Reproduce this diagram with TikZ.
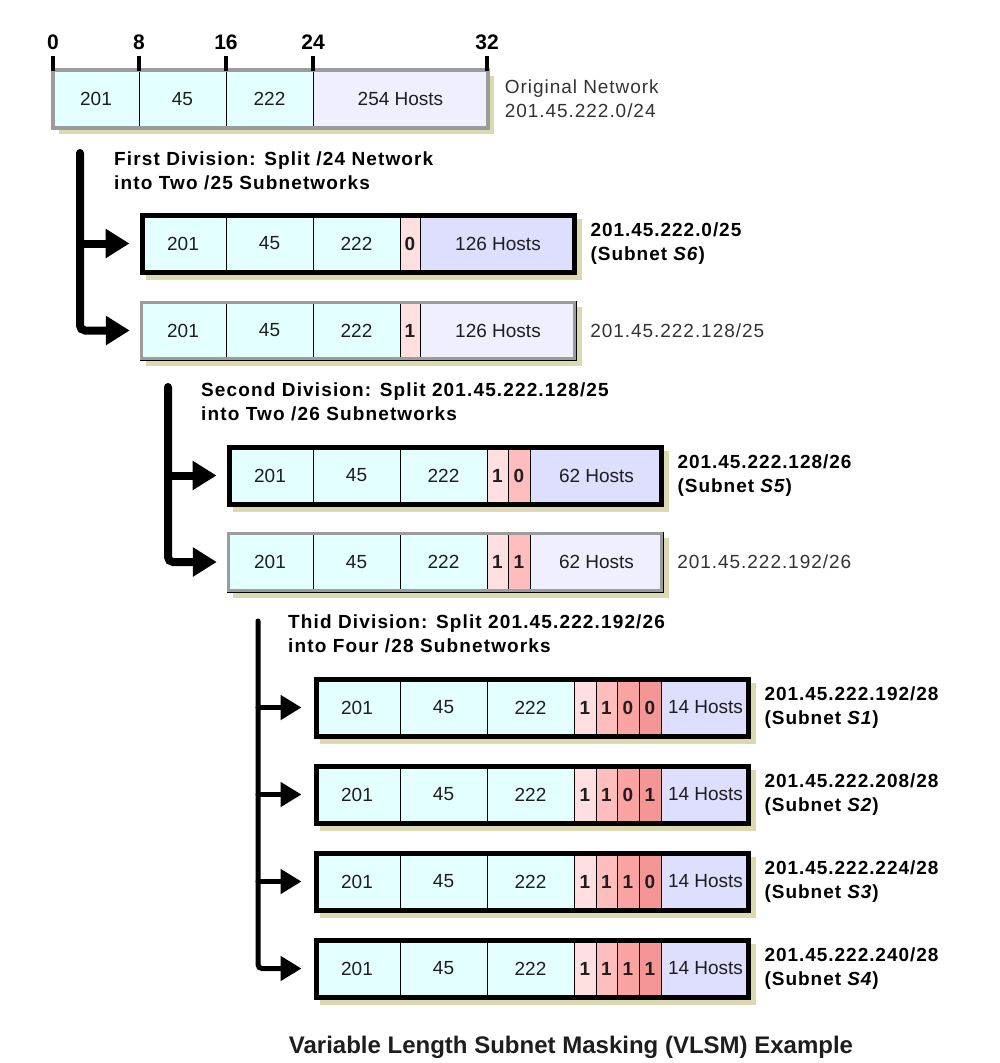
\documentclass[tikz,border=0pt]{standalone}
\usepackage{fontspec}
\setmainfont{Liberation Sans}
\newfontfamily\spfont[LetterSpace=5]{Liberation Sans}
\newfontfamily\hdfont[LetterSpace=6]{Liberation Sans}
\usetikzlibrary{arrows.meta,fit}
\definecolor{cyanc}{HTML}{E4FFFF}
\definecolor{lavl}{HTML}{EFEFFF}
\definecolor{lavd}{HTML}{DEDEFF}
\definecolor{pka}{HTML}{FFDFDF}
\definecolor{pkb}{HTML}{FFBDBD}
\definecolor{pkc}{HTML}{FBA3A3}
\definecolor{pkd}{HTML}{F59696}
\definecolor{greyb}{HTML}{9C9C9C}
\definecolor{shadowc}{HTML}{DCD8B0}
\definecolor{txt}{HTML}{1E1E1E}
\definecolor{labtxt}{HTML}{333333}
\newcommand\rowcells[3]{%
  \foreach \a/\b/\c/\t in {#3}{%
    \draw[cellline, fill=\c] (\a,#1) rectangle (\b,#2);
    \node[celltext] at ({(\a+\b)/2},{(#1+#2)/2}) {\t};
  }}
\newcommand\shadowrect[4]{\fill[shadowc] ({#1+6},{#2+6}) rectangle ({#3+6},{#4+6});}
\begin{document}
\begin{tikzpicture}[x=1pt,y=-1pt,
  cellline/.style={draw=black, line width=0.9pt},
  celltext/.style={font=\fontsize{19}{22}\selectfont, text=txt},
  selbox/.style={draw=black, line width=5pt, inner sep=0pt},
  plainbox/.style={draw=greyb, line width=3.5pt, inner sep=0pt},
  lab/.style={font=\spfont\fontsize{19}{24}\selectfont, text=labtxt, align=left, anchor=west, inner sep=0pt},
  blab/.style={font=\spfont\bfseries\fontsize{19}{24}\selectfont, text=black, align=left, anchor=west, inner sep=0pt},
  head/.style={font=\hdfont\bfseries\fontsize{19}{24}\selectfont, text=black, align=left, anchor=west, inner sep=0pt},
  ticklab/.style={font=\bfseries\fontsize{21}{24}\selectfont, text=black, inner sep=0pt},
  tick/.style={line width=4pt, draw=black},
  trunkA/.style={line width=8pt, line cap=round, rounded corners=5pt, -{Triangle[length=24pt,width=28pt]}, shorten >=10pt},
  trunkC/.style={line width=5pt, line cap=round, rounded corners=4pt, -{Triangle[length=21pt,width=24pt]}, shorten >=12pt},
  titlef/.style={font=\bfseries\fontsize{24}{28}\selectfont, text=txt, inner sep=0pt}
]
\useasboundingbox[fill=white] (0,0) rectangle (1000,1063);

% ---------- original network ----------
\shadowrect{53}{70}{488}{128}
\rowcells{70}{128}{53/139/cyanc/201, 139/226/cyanc/45, 226/313/cyanc/222, 313/488/lavl/254 Hosts}
\node[plainbox, fit={(53,70) (488,128)}] (orig) {};
\foreach \x/\l/\n in {53/0/ta,139/8/tb,226/16/tc,313/24/td,487/32/te}{
  \draw[tick] (\x,56) -- (\x,71);
  \node[ticklab] (\n) at (\x,42) {\l};
}
\node[lab] (origlab) at ([xshift=15pt]orig.east) {Original Network\\201.45.222.0/24};

% ---------- first division ----------
\node[head] (h1) at (114,171) {First Division: Split /24 Network\\into Two /25 Subnetworks};
\shadowrect{140}{213}{576}{274}
\rowcells{213}{274}{140/226/cyanc/201, 226/313/cyanc/45, 313/400/cyanc/222, 400/420/pka/{\bfseries 0}, 420/576/lavd/126 Hosts}
\node[selbox, fit={(142,215) (574,272)}] (s6) {};
\node[blab] (s6lab) at ([xshift=14pt]s6.east) {201.45.222.0/25\\(Subnet \textit{S6})};

\shadowrect{140}{301}{576}{360}
\rowcells{301}{360}{140/226/cyanc/201, 226/313/cyanc/45, 313/400/cyanc/222, 400/420/pka/{\bfseries 1}, 420/576/lavl/126 Hosts}
\node[plainbox, fit={(141.5,302.5) (574.5,358.5)}] (r128) {};
\node[lab] (r128lab) at ([xshift=14pt]r128.east) {201.45.222.128/25};

\coordinate (d1) at (80,153);
\draw[trunkA] (d1) |- (r128.west);
\draw[trunkA] (d1 |- s6.west) -- (s6.west);

% ---------- second division ----------
\node[head] (h2) at (201,402) {Second Division: Split 201.45.222.128/25\\into Two /26 Subnetworks};
\shadowrect{227}{445}{663}{506}
\rowcells{445}{506}{227/313/cyanc/201, 313/400/cyanc/45, 400/487/cyanc/222, 487/508/pka/{\bfseries 1}, 508/530/pkb/{\bfseries 0}, 530/663/lavd/62 Hosts}
\node[selbox, fit={(229,447) (661,504)}] (s5) {};
\node[blab] (s5lab) at ([xshift=14pt]s5.east) {201.45.222.128/26\\(Subnet \textit{S5})};

\shadowrect{227}{532}{663}{592}
\rowcells{532}{592}{227/313/cyanc/201, 313/400/cyanc/45, 400/487/cyanc/222, 487/508/pka/{\bfseries 1}, 508/530/pkb/{\bfseries 1}, 530/663/lavl/62 Hosts}
\node[plainbox, fit={(228.5,533.5) (661.5,590.5)}] (r192) {};
\node[lab] (r192lab) at ([xshift=14pt]r192.east) {201.45.222.192/26};

\coordinate (d2) at (168,387);
\draw[trunkA] (d2) |- (r192.west);
\draw[trunkA] (d2 |- s5.west) -- (s5.west);

% ---------- third division ----------
\node[head] (h3) at (288,634) {Thid Division: Split 201.45.222.192/26\\into Four /28 Subnetworks};
\foreach \y/\bc/\bd/\nm in {677/0/0/s1, 764/0/1/s2, 851/1/0/s3, 938/1/1/s4}{
  \shadowrect{314}{\y}{750}{\y+61}
  \rowcells{\y}{\y+61}{314/400/cyanc/201, 400/487/cyanc/45, 487/574/cyanc/222, 574/596/pka/{\bfseries 1}, 596/617/pkb/{\bfseries 1}, 617/639/pkc/{\bfseries \bc}, 639/661/pkd/{\bfseries \bd}, 661/750/lavd/14 Hosts}
  \node[selbox, fit={(316,\y+2) (748,\y+59)}] (\nm) {};
}
\node[blab] (s1lab) at ([xshift=14pt]s1.east) {201.45.222.192/28\\(Subnet \textit{S1})};
\node[blab] (s2lab) at ([xshift=14pt]s2.east) {201.45.222.208/28\\(Subnet \textit{S2})};
\node[blab] (s3lab) at ([xshift=14pt]s3.east) {201.45.222.224/28\\(Subnet \textit{S3})};
\node[blab] (s4lab) at ([xshift=14pt]s4.east) {201.45.222.240/28\\(Subnet \textit{S4})};

\coordinate (d3) at (258,621);
\draw[trunkC] (d3) |- (s4.west);
\draw[trunkC] (d3 |- s1.west) -- (s1.west);
\draw[trunkC] (d3 |- s2.west) -- (s2.west);
\draw[trunkC] (d3 |- s3.west) -- (s3.west);

% ---------- title ----------
\node[titlef] (title) at (571,1047) {Variable Length Subnet Masking (VLSM) Example};
\end{tikzpicture}
\end{document}
